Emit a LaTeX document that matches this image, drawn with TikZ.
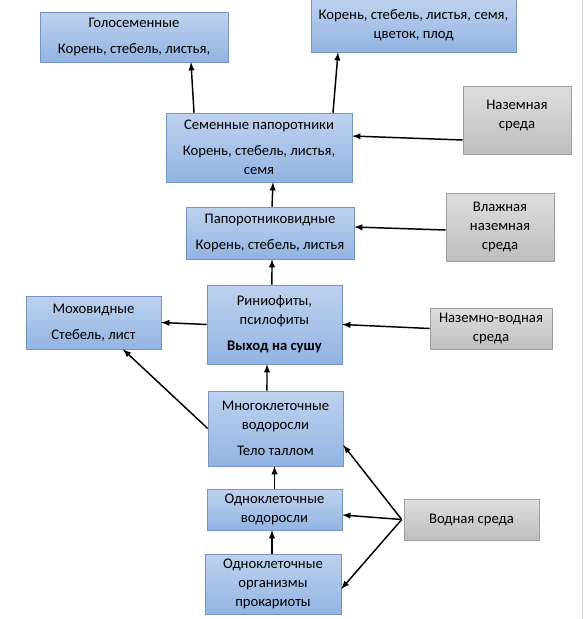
\documentclass[tikz,border=0pt]{standalone}
\usepackage{fontspec}
\setmainfont{Carlito}
\usepackage{tikz}
\usetikzlibrary{arrows, positioning, calc}
\definecolor{boxtop}{RGB}{190,210,238}
\definecolor{boxbottom}{RGB}{146,180,226}
\definecolor{boxline}{RGB}{118,148,192}
\definecolor{envtop}{RGB}{222,222,222}
\definecolor{envbottom}{RGB}{190,190,190}
\definecolor{envline}{RGB}{158,158,158}

\begin{document}
\begin{tikzpicture}[
    x=0.75pt, y=-0.75pt,
    taxon/.style={rectangle, draw=boxline, top color=boxtop, bottom color=boxbottom, inner sep=0pt, align=center, font=\fontsize{11}{14.25}\selectfont},
    envbox/.style={rectangle, draw=envline, top color=envtop, bottom color=envbottom, inner sep=0pt, align=center, font=\fontsize{11}{14.25}\selectfont},
    arr/.style={->, >=latex, line width=1.1pt, black},
    ]
\useasboundingbox (0,0) rectangle (583,619);

% plant groups
\node[taxon, minimum width=141pt, minimum height=37.5pt] (gymno) at (134,37) {Голосеменные\\[5pt]Корень, стебель, листья,};
\node[taxon, minimum width=153.75pt, minimum height=39.75pt] (angio) at (413.5,25.5) {Корень, стебель, листья, семя,\\цветок, плод};
\node[taxon, minimum width=139.5pt, minimum height=51.75pt] (seed) at (259,147.5) {Семенные папоротники\\[5pt]Корень, стебель, листья,\\семя};
\node[taxon, minimum width=126pt, minimum height=39pt] (ferns) at (270,233) {Папоротниковидные\\[5pt]Корень, стебель, листья};
\node[taxon, minimum width=101.25pt, minimum height=59.25pt] (rhynio) at (274.5,324.5) {Риниофиты,\\псилофиты\\[5pt]\textbf{Выход на сушу}};
\node[taxon, minimum width=101.25pt, minimum height=39.75pt] (mosses) at (93.5,322.5) {Моховидные\\[5pt]Стебель, лист};
\node[taxon, minimum width=101.25pt, minimum height=56.25pt] (multi) at (275.5,428.5) {Многоклеточные\\водоросли\\[5pt]Тело таллом};
\node[taxon, minimum width=101.25pt, minimum height=30.75pt] (uni) at (274.5,509.5) {Одноклеточные\\водоросли};
\node[taxon, minimum width=102pt, minimum height=45pt] (prok) at (273,584) {Одноклеточные\\организмы\\прокариоты};

% environments
\node[envbox, minimum width=81pt, minimum height=51pt] (terr) at (517,120) {Наземная\\среда\\[-5.25pt]};
\node[envbox, minimum width=81pt, minimum height=51pt] (humid) at (500,227) {Влажная\\наземная\\среда};
\node[envbox, minimum width=91.5pt, minimum height=30.75pt] (amphib) at (491,328.5) {Наземно-водная\\среда};
\node[envbox, minimum width=101.25pt, minimum height=30.75pt] (water) at (471.5,519.5) {Водная среда};

% evolution arrows
\draw[arr] ([xshift=-48.75pt]seed.north) -- ([xshift=42.75pt]gymno.south);
\draw[arr] ([xshift=55.5pt]seed.north) -- ([xshift=-56.6pt]angio.south);
\draw[arr] ([xshift=1.5pt]ferns.north) -- ([xshift=10.5pt]seed.south);
\draw[arr] ([xshift=-1.9pt]rhynio.north) -- ([xshift=1.5pt]ferns.south);
\draw[arr] (rhynio.west) -- (mosses.east);
\draw[arr] ([xshift=-6.4pt]multi.north) -- ([xshift=-5.6pt]rhynio.south);
\draw[arr] (multi.west) -- ([xshift=22.1pt]mosses.south);
\draw[arr] (uni.north) -- (uni.north |- multi.south);
\draw[arr] ([xshift=-0.75pt]prok.north) -- ([xshift=-0.75pt]prok.north |- uni.south);

% environment arrows
\draw[arr] ([yshift=-15pt]terr.west) -- ([yshift=8.6pt]seed.east);
\draw[arr] ([yshift=-2.25pt]humid.west) -- ([yshift=4.5pt]ferns.east);
\draw[arr] (amphib.west) -- (rhynio.east);
\draw[arr] ([xshift=-1.5pt]water.west) -- ([yshift=-12.4pt]multi.east);
\draw[arr] ([xshift=-1.5pt]water.west) -- ([yshift=-4.1pt]uni.east);
\draw[arr] ([xshift=-1.5pt]water.west) -- ([yshift=-3.75pt]prok.east);

% page edge
\draw[black!15] (582,0) -- (582,619);
\end{tikzpicture}
\end{document}
